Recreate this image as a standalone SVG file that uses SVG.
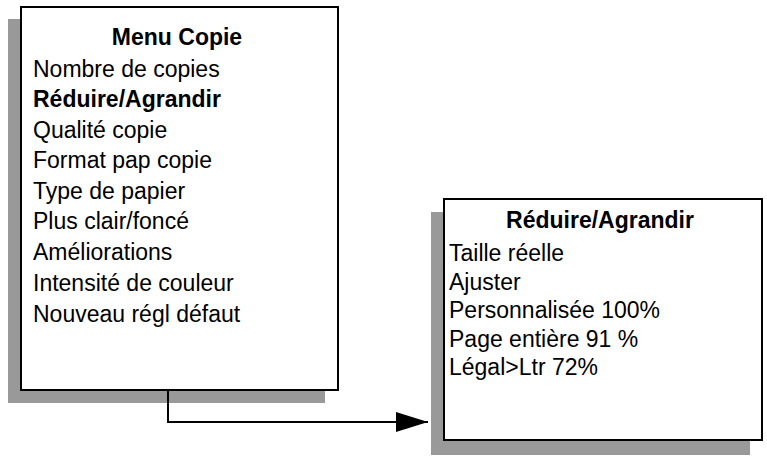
<svg xmlns="http://www.w3.org/2000/svg" width="767" height="457" viewBox="0 0 767 457">
<style>
.sh{fill:#999}
.bx{fill:#fff;stroke:#000;stroke-width:2}
text{font-family:"Liberation Sans",Arial,sans-serif;font-size:23px;fill:#000}
.b{font-weight:bold}
</style>
<defs><marker id="ah" markerWidth="34" markerHeight="22" refX="32" refY="11" orient="auto" markerUnits="userSpaceOnUse"><path d="M0,1 L32,11 L0,21 Z" fill="#000"/></marker></defs>
<g id="menu-copie">
<rect class="sh" x="8" y="19" width="317" height="384"/>
<rect class="bx" x="21" y="7" width="317" height="383"/>
<text class="b" x="177" y="45" text-anchor="middle">Menu Copie</text>
<text x="33" y="77">Nombre de copies</text>
<text class="b" x="33" y="107">Réduire/Agrandir</text>
<text x="33" y="138">Qualité copie</text>
<text x="33" y="168">Format pap copie</text>
<text x="33" y="199">Type de papier</text>
<text x="33" y="229">Plus clair/foncé</text>
<text x="33" y="260">Améliorations</text>
<text x="33" y="291">Intensité de couleur</text>
<text x="33" y="322">Nouveau régl défaut</text>
</g>
<g id="reduire-agrandir">
<rect class="sh" x="431" y="212" width="319" height="243"/>
<rect class="bx" x="444" y="199" width="318" height="241"/>
<text class="b" x="600" y="228" text-anchor="middle">Réduire/Agrandir</text>
<text x="449" y="261">Taille réelle</text>
<text x="449" y="290">Ajuster</text>
<text x="449" y="318">Personnalisée 100%</text>
<text x="449" y="347">Page entière 91 %</text>
<text x="449" y="375">Légal&gt;Ltr 72%</text>
</g>
<g id="connectors">
<path d="M168,391 V422 H428" fill="none" stroke="#000" stroke-width="2" marker-end="url(#ah)"/>
</g>
</svg>
